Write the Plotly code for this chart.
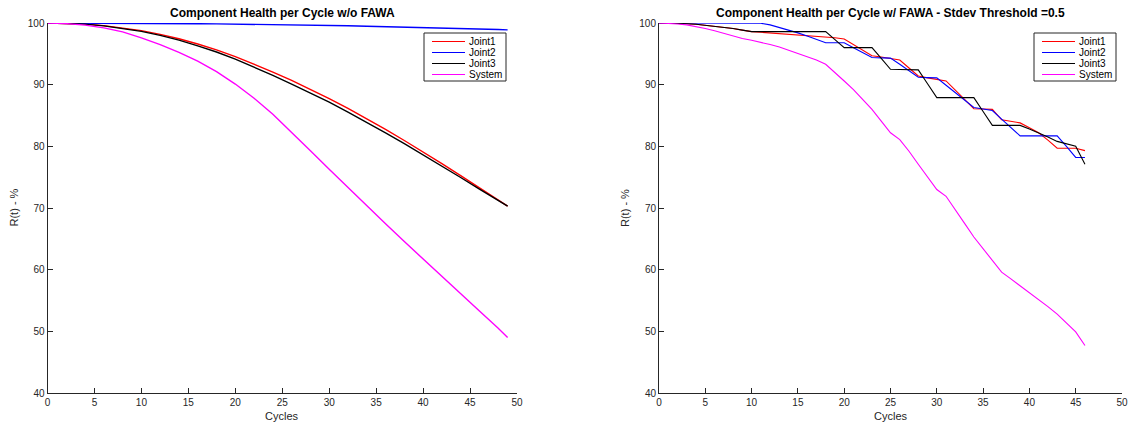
import plotly.graph_objects as go

# ---------------- data ----------------
series_names = ["Joint1", "Joint2", "Joint3", "System"]
series_colors = ["#ff0000", "#0000ff", "#000000", "#ff00ff"]

# Left chart: without FAWA
cycles_left = [0, 2, 4, 6, 8, 10, 12, 14, 16, 18, 20, 22, 24, 26, 28, 30, 32, 34, 36, 38, 40, 42, 44, 46, 48, 49]
joint1_left = [100, 99.96, 99.82, 99.57, 99.22, 98.76, 98.16, 97.45, 96.6, 95.65, 94.55, 93.35, 92.05, 90.7,
               89.25, 87.75, 86.15, 84.5, 82.75, 80.95, 79.1, 77.2, 75.25, 73.25, 71.3, 70.3]
joint2_left = [100, 100, 99.99, 99.99, 99.98, 99.96, 99.94, 99.92, 99.89, 99.86, 99.83, 99.79, 99.75, 99.71,
               99.66, 99.60, 99.55, 99.48, 99.42, 99.35, 99.28, 99.20, 99.11, 99.03, 98.94, 98.89]
joint3_left = [100, 99.96, 99.81, 99.54, 99.14, 98.64, 98.0, 97.22, 96.3, 95.3, 94.15, 92.85, 91.5, 90.1,
               88.65, 87.15, 85.55, 83.9, 82.2, 80.45, 78.65, 76.8, 74.95, 73.05, 71.2, 70.3]
system_left = [100, 99.9, 99.65, 99.2, 98.55, 97.6, 96.5, 95.25, 93.8, 92.1, 90.1, 87.8, 85.2, 82.3,
               79.3, 76.3, 73.3, 70.35, 67.45, 64.55, 61.7, 58.9, 56.1, 53.3, 50.5, 49.0]

# Right chart: with FAWA, stdev threshold 0.5
cycles_right = list(range(0, 47))
joint1_right = [100, 99.99, 99.95, 99.88, 99.8, 99.65, 99.5, 99.3, 99.1, 98.85, 98.6, 98.5, 98.4, 98.3, 98.2,
                98.1, 98.0, 97.9, 97.8, 97.6, 97.4, 96.5, 95.6, 94.7, 94.5, 94.2, 94.0, 92.7, 91.4, 91.1,
                90.9, 90.6, 89.1, 87.6, 86.1, 86.05, 86.0, 84.3, 84.0, 83.8, 83.0, 82.2, 81.0, 79.7, 79.7,
                79.7, 79.3]
joint2_right = [100, 100, 100, 100, 100, 100, 100, 100, 100, 100, 100, 99.95, 99.7, 99.3, 98.9, 98.4, 97.9,
                97.3, 96.8, 96.8, 96.8, 96.0, 95.2, 94.4, 94.35, 94.3, 93.3, 92.2, 91.2, 91.15, 91.1, 89.9,
                88.7, 87.5, 86.3, 86.05, 85.8, 84.4, 83.0, 81.7, 81.7, 81.7, 81.7, 81.7, 80.0, 78.2, 78.2]
joint3_right = [100, 99.99, 99.95, 99.88, 99.8, 99.65, 99.5, 99.3, 99.1, 98.85, 98.6, 98.6, 98.6, 98.6, 98.6,
                98.6, 98.6, 98.6, 98.6, 97.3, 96.0, 96.0, 96.0, 96.0, 94.25, 92.5, 92.45, 92.4, 92.4, 90.15,
                87.9, 87.9, 87.9, 87.9, 87.9, 85.65, 83.4, 83.4, 83.4, 83.4, 82.8, 82.2, 81.5, 80.8, 80.4,
                80.0, 77.1]
system_right = [100, 99.97, 99.85, 99.7, 99.45, 99.1, 98.75, 98.3, 97.9, 97.5, 97.2, 96.9, 96.5, 96.1, 95.6,
                95.1, 94.6, 94.0, 93.3, 92.0, 90.6, 89.2, 87.6, 86.0, 84.1, 82.2, 81.1, 79.2, 77.1, 75.0,
                73.0, 71.9, 69.8, 67.5, 65.3, 63.4, 61.5, 59.6, 58.5, 57.4, 56.3, 55.1, 54.0, 52.8, 51.4,
                49.9, 47.7]

x_ticks = [0, 5, 10, 15, 20, 25, 30, 35, 40, 45, 50]
y_ticks = [40, 50, 60, 70, 80, 90, 100]

titles = ["Component Health per Cycle w/o FAWA",
          "Component Health per Cycle w/ FAWA - Stdev Threshold =0.5"]
x_label = "Cycles"
y_label = "R(t) - %"

# ---------------- layout geometry ----------------
W, H = 1130, 422
FONT = "Liberation Sans, Arial, Helvetica, sans-serif"
AX = "#262626"
dom_left = [47.5 / W, 517 / W]
dom_right = [659 / W, 1122 / W]
y_dom = [(H - 393) / H, (H - 23) / H]

fig = go.Figure()

left_sets = [joint1_left, joint2_left, joint3_left, system_left]
right_sets = [joint1_right, joint2_right, joint3_right, system_right]
for name, color, ys in zip(series_names, series_colors, left_sets):
    fig.add_trace(go.Scatter(x=cycles_left, y=ys, mode="lines", name=name,
                             line=dict(color=color, width=1.4), showlegend=False,
                             xaxis="x", yaxis="y"))
for name, color, ys in zip(series_names, series_colors, right_sets):
    fig.add_trace(go.Scatter(x=cycles_right, y=ys, mode="lines", name=name,
                             line=dict(color=color, width=1.1), showlegend=False,
                             xaxis="x2", yaxis="y2"))

axis_common = dict(showgrid=False, zeroline=False, showline=True, linecolor=AX, linewidth=1,
                   ticks="inside", ticklen=5, tickwidth=1, tickcolor=AX, mirror=False,
                   tickfont=dict(family=FONT, size=10, color=AX), automargin=False)

fig.update_layout(
    width=W, height=H,
    margin=dict(l=0, r=0, t=0, b=0),
    paper_bgcolor="white", plot_bgcolor="white",
    showlegend=False,
    xaxis=dict(domain=dom_left, range=[0, 50], tickvals=x_ticks, anchor="y", **axis_common),
    yaxis=dict(domain=y_dom, range=[40, 100], tickvals=y_ticks, anchor="x", **axis_common),
    xaxis2=dict(domain=dom_right, range=[0, 50], tickvals=x_ticks, anchor="y2", **axis_common),
    yaxis2=dict(domain=y_dom, range=[40, 100], tickvals=y_ticks, anchor="x2", **axis_common),
)

annotations = []
shapes = []
for dom, title in zip([dom_left, dom_right], titles):
    cx = (dom[0] + dom[1]) / 2
    annotations.append(dict(text="<b>" + title + "</b>", x=cx, y=1 - 13 / H, xref="paper", yref="paper",
                            xanchor="center", yanchor="middle", showarrow=False,
                            font=dict(family=FONT, size=12, color="black")))
    annotations.append(dict(text=x_label, x=cx, y=1 - 416 / H, xref="paper", yref="paper",
                            xanchor="center", yanchor="middle", showarrow=False,
                            font=dict(family=FONT, size=11, color=AX)))
    annotations.append(dict(text=y_label, x=dom[0] - 34 / W, y=1 - 208 / H, xref="paper", yref="paper",
                            xanchor="center", yanchor="middle", showarrow=False, textangle=-90,
                            font=dict(family=FONT, size=11, color=AX)))

# legends (drawn as boxes with line samples and labels)
for box_left, box_right in [(424, 506), (1034, 1116)]:
    top, bottom = 33, 81
    shapes.append(dict(type="rect", xref="paper", yref="paper",
                       x0=box_left / W, x1=box_right / W, y0=1 - bottom / H, y1=1 - top / H,
                       line=dict(color=AX, width=1), fillcolor="white", layer="above"))
    for i, (name, color) in enumerate(zip(series_names, series_colors)):
        ry = 41.5 + 11 * i
        shapes.append(dict(type="line", xref="paper", yref="paper",
                           x0=(box_left + 8) / W, x1=(box_left + 41) / W, y0=1 - ry / H, y1=1 - ry / H,
                           line=dict(color=color, width=1.2), layer="above"))
        annotations.append(dict(text=name, x=(box_left + 43) / W, y=1 - ry / H, xref="paper", yref="paper",
                                xanchor="left", yanchor="middle", showarrow=False,
                                font=dict(family=FONT, size=10, color="black")))

fig.update_layout(annotations=annotations, shapes=shapes)
fig.write_html("out.html")
